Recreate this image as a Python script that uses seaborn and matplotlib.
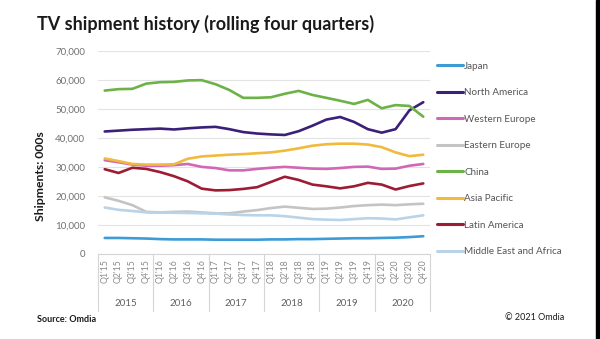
import matplotlib
matplotlib.use("Agg")
import matplotlib.pyplot as plt
import matplotlib.transforms as mtransforms
from matplotlib.lines import Line2D
from matplotlib.patches import Rectangle
import numpy as np
import pandas as pd
import seaborn as sns

# Rolling four-quarter TV shipments (thousands of units)
quarters = [f"Q{q}'{y}" for y in range(15, 21) for q in range(1, 5)]
years = ["2015", "2016", "2017", "2018", "2019", "2020"]

japan = [5500, 5500, 5400, 5300, 5100, 5000, 5000, 5000, 4900, 4900, 4900, 4900,
         5000, 5000, 5100, 5100, 5200, 5300, 5400, 5400, 5500, 5600, 5800, 6100]
north_america = [42200, 42500, 42800, 43000, 43200, 42900, 43300, 43600, 43800, 43000, 42000, 41500,
                 41200, 41000, 42300, 44200, 46300, 47200, 45500, 43000, 41800, 43000, 49500, 52300]
western_europe = [32300, 31600, 30800, 30400, 30400, 30600, 31000, 30000, 29600, 28800, 28800, 29300,
                  29700, 30000, 29700, 29400, 29300, 29600, 30000, 30100, 29300, 29400, 30400, 31000]
eastern_europe = [19500, 18300, 16800, 14500, 14300, 14500, 14600, 14300, 14000, 14000, 14600, 15100,
                  15800, 16300, 15900, 15500, 15600, 16000, 16500, 16800, 17000, 16800, 17100, 17300]
china = [56300, 56800, 56900, 58700, 59200, 59300, 59800, 59900, 58500, 56500, 53800, 53800,
         54000, 55200, 56200, 54800, 53800, 52800, 51700, 53100, 50200, 51300, 51000, 47300]
asia_pacific = [32900, 32000, 31000, 30800, 30800, 30900, 32800, 33600, 33900, 34200, 34400, 34700,
                35000, 35600, 36400, 37300, 37800, 38000, 38000, 37700, 36800, 35000, 33700, 34200]
latin_america = [29200, 27900, 29700, 29300, 28200, 26800, 25000, 22500, 21900, 22000, 22400, 23000,
                 24800, 26600, 25500, 23900, 23300, 22600, 23300, 24500, 23900, 22200, 23400, 24300]
middle_east_africa = [16000, 15200, 14800, 14300, 14200, 14200, 14100, 14000, 13900, 13600, 13400, 13300,
                      13300, 13000, 12500, 12000, 11800, 11700, 12000, 12300, 12200, 11900, 12600, 13300]

regions = ["Japan", "North America", "Western Europe", "Eastern Europe", "China",
           "Asia Pacific", "Latin America", "Middle East and Africa"]
series = [japan, north_america, western_europe, eastern_europe, china,
          asia_pacific, latin_america, middle_east_africa]
colors = ["#3d9bd6", "#3c1f78", "#d068b4", "#c4c4c4", "#6cb247",
          "#f0bb3c", "#9c1c33", "#b9d3e8"]

df = pd.DataFrame({
    "idx": np.tile(np.arange(len(quarters)), len(regions)),
    "region": np.repeat(regions, len(quarters)),
    "shipments": np.concatenate(series),
})

sns.set_theme(style="white")
plt.rcParams["font.family"] = ["Lato", "DejaVu Sans"]

fig = plt.figure(figsize=(6.0, 3.39), dpi=100)
ax = fig.add_axes([0.163, 0.251, 0.554, 0.599])

sns.lineplot(data=df, x="idx", y="shipments", hue="region", hue_order=regions,
             palette=colors, linewidth=1.9, ax=ax, legend=False)

ax.set_xlim(-0.5, len(quarters) - 0.5)
ax.set_ylim(0, 70000)
ax.set_yticks(np.arange(0, 70001, 10000))
ax.set_yticklabels([f"{v:,}" for v in range(0, 70001, 10000)], fontsize=7, color="#707070")
ax.yaxis.grid(True, color="#e3e3e3", linewidth=0.8)
ax.set_axisbelow(True)
ax.set_xticks(np.arange(len(quarters)))
ax.set_xticklabels(quarters, rotation=90, fontsize=6.3, color="#8a8a8a")
ax.tick_params(axis="both", length=0, pad=4)
ax.tick_params(axis="y", pad=9)
for s in ["top", "right", "left"]:
    ax.spines[s].set_visible(False)
ax.spines["bottom"].set_color("#d5d5d5")
ax.spines["bottom"].set_linewidth(0.8)
ax.set_xlabel("")
ax.set_ylabel("Shipments: 000s", fontsize=8.8, fontweight="bold", color="#1a1a1a")
ax.yaxis.set_label_coords(-0.157, 0.384)

# Year grouping under the quarter labels
trans = mtransforms.blended_transform_factory(ax.transData, ax.transAxes)
for k in range(len(years) + 1):
    xb = k * 4 - 0.5
    ax.add_line(Line2D([xb, xb], [0, -0.28], transform=trans, color="#d5d5d5",
                       linewidth=0.8, clip_on=False))
for k, yr in enumerate(years):
    ax.text(k * 4 + 1.5, -0.242, yr, transform=trans, ha="center", va="center",
            fontsize=7, color="#606060")

# Legend to the right of the plot
handles = [Line2D([0], [0], color=c, linewidth=2.2) for c in colors]
fig.legend(handles, regions, loc="upper left", bbox_to_anchor=(0.722, 0.83),
           frameon=False, fontsize=7.1, labelcolor="#555555", handlelength=2.6,
           handletextpad=0.15, labelspacing=1.78, borderaxespad=0)

fig.text(0.062, 0.928, "TV shipment history (rolling four quarters)", fontsize=13,
         fontweight="bold", color="#1a1a1a", va="center", ha="left")
fig.text(0.062, 0.057, "Source: Omdia", fontsize=6.5, fontweight="bold",
         color="#1a1a1a", va="center", ha="left")
fig.text(0.842, 0.062, "\u00a9 2021 Omdia", fontsize=6.5, color="#1a1a1a",
         va="center", ha="left")

# Dark strip along the right edge
fig.add_artist(Rectangle((0.993, 0), 0.007, 1, transform=fig.transFigure,
                         color="black", zorder=10))

fig.savefig("out.png", dpi=100)
